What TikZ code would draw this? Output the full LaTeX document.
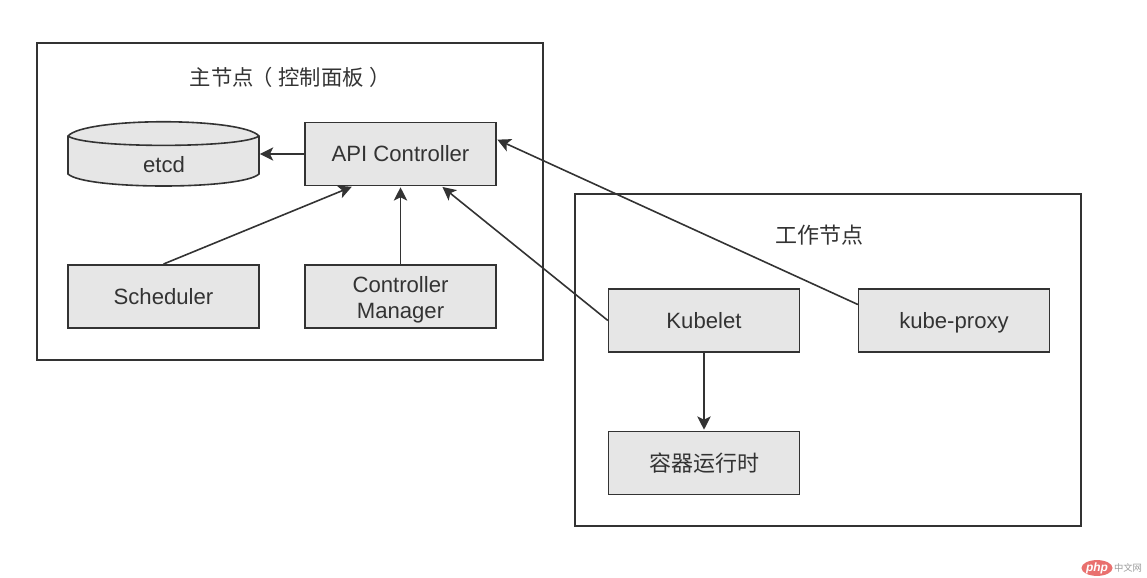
\documentclass[tikz,border=0pt]{standalone}
\usepackage{fontspec}
\setmainfont{Liberation Sans}
\newfontfamily\cjk{Noto Sans CJK SC}
\usetikzlibrary{arrows.meta,calc,shapes.geometric}
\definecolor{ink}{HTML}{333333}
\definecolor{boxfill}{HTML}{E6E6E6}
\definecolor{phpred}{HTML}{E9706E}
\definecolor{phpgray}{HTML}{9A9A9A}
\tikzset{
  frame/.style={draw=ink,line width=1.2pt,minimum width=379.5pt,inner sep=0pt},
  comp/.style={draw=ink,fill=boxfill,line width=1.2pt,minimum width=143pt,minimum height=47.5pt,inner sep=0pt,text=ink,font=\fontsize{16.6}{19.5}\selectfont,align=center},
  title/.style={inner sep=0pt,text=ink,font=\cjk\fontsize{16}{19}\selectfont},
  flow/.style={draw=ink,line width=1.2pt,-{Stealth[length=10pt,width=10pt,inset=2.5pt]},shorten >=0.6pt}
}
\begin{document}
\begin{tikzpicture}[x=0.75pt,y=-0.75pt]
\useasboundingbox (0,0) rectangle (1147,578);
\node[frame,minimum height=237.75pt] (master) at (290,201.5) {};
\node[frame,minimum height=249pt] (worker) at (828,360) {};
\node[title,anchor=west] (mastertitle) at (189.5,77) {主节点\kern-2pt（\kern4.5pt控制面板\kern4.5pt）};
\node[title,font=\cjk\fontsize{16.5}{19}\selectfont] (workertitle) at (819,235) {工作节点};
% etcd cylinder
\node[inner sep=0pt,minimum width=143pt,minimum height=47.5pt] (etcd) at (163.5,154) {};
\draw[draw=ink,fill=boxfill,line width=1.2pt]
  (68,136) .. controls (85,117) and (242,117) .. (259,136)
  -- (259,174) .. controls (242,190) and (85,190) .. (68,174) -- cycle;
\draw[draw=ink,line width=1.2pt]
  (68,136) .. controls (85,148.5) and (242,148.5) .. (259,136);
\node[inner sep=0pt,text=ink,font=\fontsize{16.6}{19.5}\selectfont] (etcdlabel) at (164,165) {etcd};
\node[comp] (api) at (400.5,154) {API Controller};
\node[comp] (sched) at (163.5,296.5) {Scheduler};
\node[comp,text height=36.7pt,text depth=3.5pt] (cm) at (400.5,296.5) {Controller\\Manager};
\node[comp] (kubelet) at (704,320.5) {Kubelet};
\node[comp,text depth=0pt] (proxy) at (954,320.5) {kube-proxy};
\node[comp,font=\cjk\fontsize{16.5}{19}\selectfont] (runtime) at (704,463) {容器运行时};
\draw[flow] (api.west) -- (etcd.east);
\draw[flow] (sched.north) -- ([xshift=-36pt]api.south);
\draw[flow] (cm.north) -- (api.south);
\draw[flow] (kubelet.west) -- ([xshift=31pt]api.south);
\draw[flow] ([yshift=12pt]proxy.west) -- ([yshift=11pt]api.east);
\draw[flow] (kubelet.south) -- (runtime.north);
% watermark
\node[fill=phpred,ellipse,minimum width=21pt,minimum height=10.5pt,inner sep=0pt,text=white,font=\bfseries\itshape\fontsize{9}{9}\selectfont] (phplogo) at (1097,568) {php};
\node[inner sep=0pt,text=phpgray,font=\cjk\fontsize{7}{8}\selectfont] (phptext) at (1128,568) {中文网};
\end{tikzpicture}
\end{document}
